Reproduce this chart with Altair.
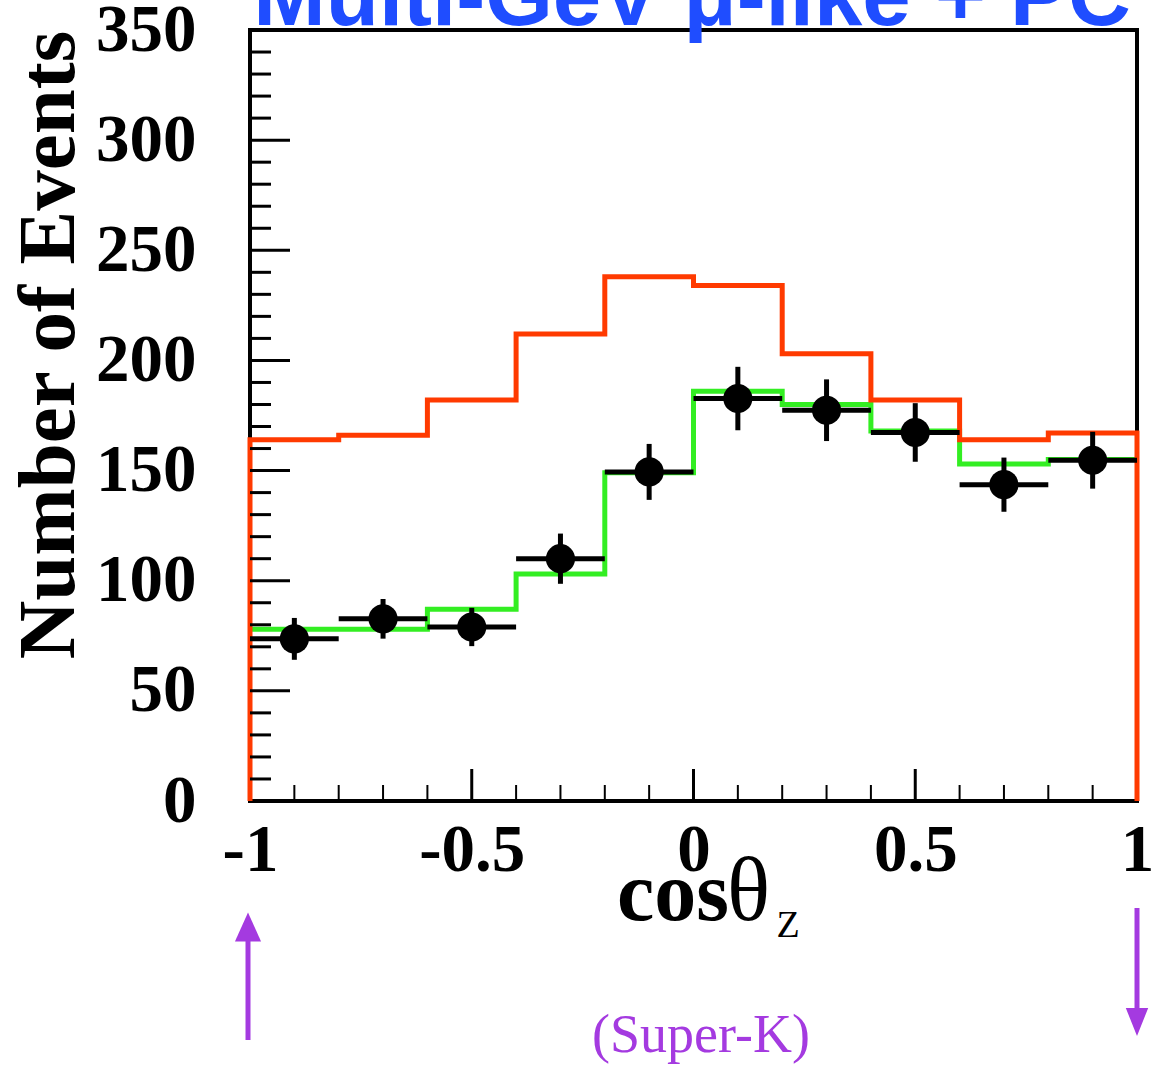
import altair as alt
import pandas as pd

# ---- data ----
edges = [-1.0, -0.8, -0.6, -0.4, -0.2, 0.0, 0.2, 0.4, 0.6, 0.8, 1.0]
centers = [-0.9, -0.7, -0.5, -0.3, -0.1, 0.1, 0.3, 0.5, 0.7, 0.9]
no_osc = [164, 166, 182, 212, 238, 234, 203, 182, 164, 167]      # red MC (no oscillation)
osc = [78, 78, 87, 103, 149, 186, 180, 168, 153, 155]            # green MC (oscillated)
obs = [73.6, 82.7, 79, 110, 149.4, 182.7, 177.4, 167.3, 143.6, 154.7]  # data
err = [9.5, 9.0, 8.7, 11.4, 12.7, 14.4, 14.0, 13.3, 12.3, 12.9]

y_tick_labels = [0, 50, 100, 150, 200, 250, 300, 350]
x_tick_labels = [-1, -0.5, 0, 0.5, 1]

W, H = 887, 771
X_DOM = [-1, 1]
Y_DOM = [0, 350]

xs = alt.Scale(domain=X_DOM, nice=False, zero=False)
ys = alt.Scale(domain=Y_DOM, nice=False, zero=False)

# step histograms
red_df = pd.DataFrame({
    "x": [-1.0] + edges + [1.0],
    "y": [0] + no_osc + [no_osc[-1], 0],
})
red_df["o"] = range(len(red_df))
green_df = pd.DataFrame({"x": edges, "y": osc + [osc[-1]]})
green_df["o"] = range(len(green_df))

pts = pd.DataFrame({
    "c": centers, "lo_x": edges[:-1], "hi_x": edges[1:],
    "y": obs, "lo": [v - e for v, e in zip(obs, err)], "hi": [v + e for v, e in zip(obs, err)],
})

base_x = alt.X("x:Q", scale=xs, axis=alt.Axis(
    values=x_tick_labels, labelExpr="'' + datum.value", title=None,
    labelFont="Liberation Serif", labelFontWeight="bold", labelFontSize=67,
    labelColor="black", labelPadding=16, ticks=False, domain=False, grid=False,
    labelFlush=False))
base_y = alt.Y("y:Q", scale=ys, axis=alt.Axis(
    values=y_tick_labels, title=None,
    labelFont="Liberation Serif", labelFontWeight="bold", labelFontSize=67,
    labelColor="black", labelPadding=54, ticks=False, domain=False, grid=False,
    labelFlush=False))

green = alt.Chart(green_df).mark_line(
    interpolate="step-after", color="#33ee22", strokeWidth=5
).encode(x=base_x, y=base_y, order="o:Q")

red = alt.Chart(red_df).mark_line(
    interpolate="step-after", color="#ff3a00", strokeWidth=5
).encode(x=alt.X("x:Q", scale=xs), y=alt.Y("y:Q", scale=ys), order="o:Q")

# inward ticks
y_major = pd.DataFrame({"v": list(range(50, 350, 50))})
y_minor = pd.DataFrame({"v": [v for v in range(10, 350, 10) if v % 50 != 0]})
x_major = pd.DataFrame({"v": [-0.5, 0.0, 0.5]})
x_minor = pd.DataFrame({"v": [round(-0.9 + 0.1 * i, 1) for i in range(19) if round(-0.9 + 0.1 * i, 1) not in (-0.5, 0.0, 0.5)]})

ytM = alt.Chart(y_major).mark_rule(color="black", strokeWidth=3).encode(
    y=alt.Y("v:Q", scale=ys), x=alt.value(0), x2=alt.value(40))
ytm = alt.Chart(y_minor).mark_rule(color="black", strokeWidth=3).encode(
    y=alt.Y("v:Q", scale=ys), x=alt.value(0), x2=alt.value(21))
xtM = alt.Chart(x_major).mark_rule(color="black", strokeWidth=3).encode(
    x=alt.X("v:Q", scale=xs), y=alt.value(H), y2=alt.value(H - 32))
xtm = alt.Chart(x_minor).mark_rule(color="black", strokeWidth=2).encode(
    x=alt.X("v:Q", scale=xs), y=alt.value(H), y2=alt.value(H - 16))

hbar = alt.Chart(pts).mark_rule(color="black", strokeWidth=5).encode(
    x=alt.X("lo_x:Q", scale=xs), x2="hi_x:Q", y=alt.Y("y:Q", scale=ys))
vbar = alt.Chart(pts).mark_rule(color="black", strokeWidth=5).encode(
    x=alt.X("c:Q", scale=xs), y=alt.Y("lo:Q", scale=ys), y2="hi:Q")
dots = alt.Chart(pts).mark_circle(color="black", opacity=1, size=850).encode(
    x=alt.X("c:Q", scale=xs), y=alt.Y("y:Q", scale=ys))

one = pd.DataFrame({"a": [0]})

def txt(s, x, y, size, font, weight="normal", color="black", angle=0, align="center", baseline="alphabetic"):
    return alt.Chart(one).mark_text(
        text=s, font=font, fontSize=size, fontWeight=weight, color=color,
        angle=angle, align=align, baseline=baseline
    ).encode(x=alt.value(x), y=alt.value(y))

purple = "#a43ae0"

title = txt("Multi-GeV \u03bc-like + PC", 442, -5, 87, "Liberation Sans", "bold", "#1f4dff")
ytitle = txt("Number of Events", -200, 315, 81, "Liberation Serif", "bold", angle=270, baseline="middle")
xtitle_cos = txt("cos", 479, 890, 84, "Liberation Serif", "bold", align="right")
xtitle_th = txt("\u03b8", 477, 890, 90, "Liberation Serif", "normal", align="left")
xsub = txt("Z", 538, 907, 38, "Liberation Serif", "normal")
superk = txt("(Super-K)", 451, 1022, 54, "Liberation Serif", "normal", purple)

up_line = alt.Chart(one).mark_rule(color=purple, strokeWidth=5).encode(
    x=alt.value(-2), y=alt.value(1010), y2=alt.value(905))
up_head = alt.Chart(one).mark_point(
    shape="M0,-1L0.9,1L-0.9,1Z", filled=True, color=purple, opacity=1, size=841, strokeWidth=0
).encode(x=alt.value(-2), y=alt.value(897))
dn_line = alt.Chart(one).mark_rule(color=purple, strokeWidth=5).encode(
    x=alt.value(887), y=alt.value(878), y2=alt.value(985))
dn_head = alt.Chart(one).mark_point(
    shape="M0,1L0.8,-1L-0.8,-1Z", filled=True, color=purple, opacity=1, size=784, strokeWidth=0
).encode(x=alt.value(887), y=alt.value(992))

chart = alt.layer(
    green, red, ytM, ytm, xtM, xtm, hbar, vbar, dots,
    title, ytitle, xtitle_cos, xtitle_th, xsub, superk, up_line, up_head, dn_line, dn_head
).properties(
    width=W, height=H,
    autosize=alt.AutoSizeParams(type="none"),
    padding={"left": 250, "top": 30, "right": 25, "bottom": 264},
    background="white",
).configure_view(stroke="black", strokeWidth=4)

chart.save("out.html", embed_options={"renderer": "svg", "actions": False})
